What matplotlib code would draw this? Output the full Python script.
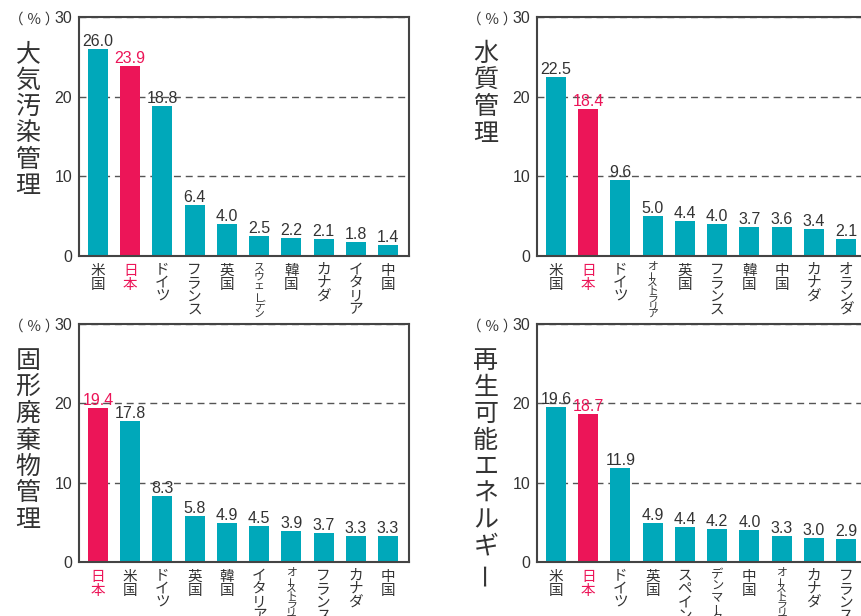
import matplotlib
matplotlib.use('Agg')
import matplotlib.pyplot as plt

plt.rcParams['font.family'] = ['Liberation Sans', 'Noto Sans CJK JP', 'DejaVu Sans']

# ---------------- data ----------------
air_title = '大気汚染管理'
air_countries = ['米国', '日本', 'ドイツ', 'フランス', '英国', 'スウェーデン', '韓国', 'カナダ', 'イタリア', '中国']
air_values = [26.0, 23.9, 18.8, 6.4, 4.0, 2.5, 2.2, 2.1, 1.8, 1.4]

water_title = '水質管理'
water_countries = ['米国', '日本', 'ドイツ', 'オーストラリア', '英国', 'フランス', '韓国', '中国', 'カナダ', 'オランダ']
water_values = [22.5, 18.4, 9.6, 5.0, 4.4, 4.0, 3.7, 3.6, 3.4, 2.1]

waste_title = '固形廃棄物管理'
waste_countries = ['日本', '米国', 'ドイツ', '英国', '韓国', 'イタリア', 'オーストラリア', 'フランス', 'カナダ', '中国']
waste_values = [19.4, 17.8, 8.3, 5.8, 4.9, 4.5, 3.9, 3.7, 3.3, 3.3]

renew_title = '再生可能エネルギー'
renew_countries = ['米国', '日本', 'ドイツ', '英国', 'スペイン', 'デンマーク', '中国', 'オーストラリア', 'カナダ', 'フランス']
renew_values = [19.6, 18.7, 11.9, 4.9, 4.4, 4.2, 4.0, 3.3, 3.0, 2.9]

y_ticks = [0, 10, 20, 30]
unit_label = '（ ％ ）'
highlight = '日本'

# ---------------- style ----------------
TEAL = '#00A8BA'
PINK = '#EC1558'
TXT = '#333333'
SPINE = '#444444'
CJK = ['Noto Sans CJK JP', 'DejaVu Sans']

W, H = 862, 616
fig = plt.figure(figsize=(W / 100, H / 100), dpi=100)


def px_rect(left, top, right, bottom):
    return [left / W, (H - bottom) / H, (right - left) / W, (bottom - top) / H]


def is_kanji(s):
    return all('\u4e00' <= c <= '\u9fff' for c in s)


def draw_panel(rect, title, countries, values):
    ax = fig.add_axes(rect)
    x = list(range(len(countries)))
    colors = [PINK if c == highlight else TEAL for c in countries]
    ax.bar(x, values, width=0.62, color=colors, zorder=2)
    ax.set_xlim(-0.59, len(countries) - 1 + 0.65)
    ax.set_ylim(0, 30)
    ax.set_yticks(y_ticks)
    ax.set_yticklabels([str(t) for t in y_ticks], fontsize=11.5, color=TXT)
    ax.tick_params(axis='y', length=0, pad=5)
    ax.set_xticks([])
    ax.set_axisbelow(True)
    ax.yaxis.grid(True, linestyle=(0, (5, 3.5)), color='#555555', linewidth=1.0)
    for s in ax.spines.values():
        s.set_color(SPINE)
        s.set_linewidth(1.5)
        s.set_zorder(3)
    # value labels
    for xi, v, c in zip(x, values, countries):
        col = PINK if c == highlight else TXT
        ax.annotate(f'{v:.1f}', xy=(xi, v), xytext=(0, 3), textcoords='offset pixels',
                    ha='center', va='baseline', fontsize=11.5, color=col, zorder=4)
    # vertical country labels
    for xi, c in zip(x, countries):
        col = PINK if c == highlight else TXT
        n = len(c)
        if is_kanji(c):
            pitch = 15.0
        else:
            pitch = min(13.3, 56.0 / n)
        fs = 10.5 * max(0.74, min(1.0, pitch / 13.3))
        for k, ch in enumerate(c):
            ax.annotate(ch, xy=(xi, 0), xycoords=('data', 'axes fraction'),
                        xytext=(0, -7 - (k + 0.5) * pitch), textcoords='offset pixels',
                        ha='center', va='center', fontsize=fs, color=col, family=CJK,
                        rotation=90 if ch == 'ー' else 0, annotation_clip=False)
    # vertical title
    for k, ch in enumerate(title):
        ax.annotate(ch, xy=(0, 1), xycoords='axes fraction',
                    xytext=(-51, -37 - k * 26.5), textcoords='offset pixels',
                    ha='center', va='center', fontsize=18, color=TXT, family=CJK,
                    rotation=90 if ch == 'ー' else 0, annotation_clip=False)
    # unit label
    ax.annotate(unit_label, xy=(0, 1), xycoords='axes fraction',
                xytext=(-20, -3), textcoords='offset pixels',
                ha='right', va='center', fontsize=10.5, color=TXT, family=CJK,
                annotation_clip=False)
    return ax


draw_panel(px_rect(79, 17, 409, 256), air_title, air_countries, air_values)
draw_panel(px_rect(537, 17, 867, 256), water_title, water_countries, water_values)
draw_panel(px_rect(79, 324, 409, 562), waste_title, waste_countries, waste_values)
draw_panel(px_rect(537, 324, 867, 562), renew_title, renew_countries, renew_values)

fig.savefig('out.png', dpi=100)
